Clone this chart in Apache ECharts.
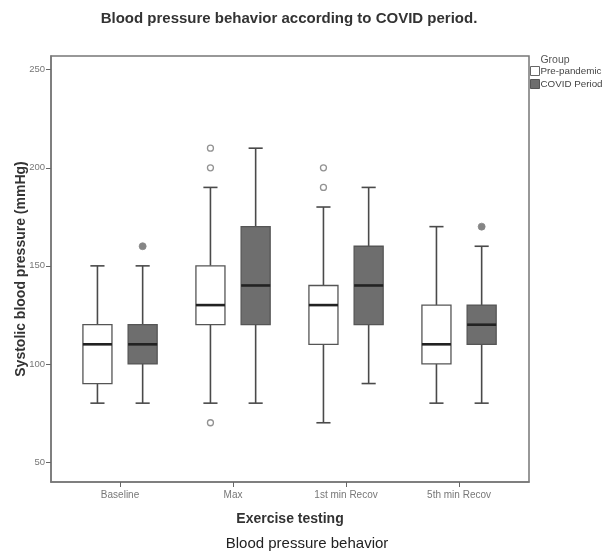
<!DOCTYPE html>
<html>
<head>
<meta charset="utf-8">
<script src="https://cdn.jsdelivr.net/npm/echarts@6/dist/echarts.min.js"></script>
<style>
  html, body { margin: 0; padding: 0; background: #fff; }
  #main { width: 603px; height: 551px; }
</style>
</head>
<body>
<div id="main"></div>
<script>
const categories = ['Baseline', 'Max', '1st min Recov', '5th min Recov'];
const groups = ['Pre-pandemic', 'COVID Period'];
// [min, Q1, median, Q3, max] per category
const preBoxes = [
  [80, 90, 110, 120, 150],
  [80, 120, 130, 150, 190],
  [70, 110, 130, 140, 180],
  [80, 100, 110, 130, 170]
];
const covidBoxes = [
  [80, 100, 110, 120, 150],
  [80, 120, 140, 170, 210],
  [90, 120, 140, 160, 190],
  [80, 110, 120, 130, 160]
];
// outliers: [categoryIndex, value]
const preOutliers = [[1, 210], [1, 200], [1, 70], [2, 200], [2, 190]];
const covidOutliers = [[0, 160], [3, 170]];
const yTicks = [50, 100, 150, 200, 250];

const SHIFT = 0.2;      // box offset from category centre, in category units
const BOX_W = 0.257;    // box width, in category units
const CAP_W = 0.125;

const font = 'Liberation Sans, Arial, sans-serif';

function boxSeries(name, boxes, shift, fill) {
  return {
    name: name,
    type: 'custom',
    itemStyle: { color: fill, borderColor: '#555' },
    encode: { x: 0, y: [1, 2, 3, 4, 5] },
    data: boxes.map((b, i) => [i, ...b]),
    renderItem: function (params, api) {
      const x = api.value(0) + shift;
      const pMin = api.coord([x, api.value(1)]);
      const pQ1 = api.coord([x, api.value(2)]);
      const pMed = api.coord([x, api.value(3)]);
      const pQ3 = api.coord([x, api.value(4)]);
      const pMax = api.coord([x, api.value(5)]);
      const unit = api.size([1, 0])[0];
      const half = unit * BOX_W / 2;
      const cap = unit * CAP_W / 2;
      const cx = pMed[0];
      const line = { stroke: '#4a4a4a', lineWidth: 1.6 };
      return {
        type: 'group',
        children: [
          { type: 'line', shape: { x1: cx, y1: pMax[1], x2: cx, y2: pQ3[1] }, style: line },
          { type: 'line', shape: { x1: cx, y1: pQ1[1], x2: cx, y2: pMin[1] }, style: line },
          { type: 'line', shape: { x1: cx - cap, y1: pMax[1], x2: cx + cap, y2: pMax[1] }, style: line },
          { type: 'line', shape: { x1: cx - cap, y1: pMin[1], x2: cx + cap, y2: pMin[1] }, style: line },
          {
            type: 'rect',
            shape: { x: cx - half, y: pQ3[1], width: half * 2, height: pQ1[1] - pQ3[1] },
            style: { fill: fill, stroke: '#555', lineWidth: 1.3 }
          },
          {
            type: 'line',
            shape: { x1: cx - half, y1: pMed[1], x2: cx + half, y2: pMed[1] },
            style: { stroke: '#222', lineWidth: 2.6 }
          }
        ]
      };
    }
  };
}

const chart = echarts.init(document.getElementById('main'));
chart.setOption({
  animation: false,
  backgroundColor: '#fff',
  title: [
    {
      text: 'Blood pressure behavior according to COVID period.',
      left: 284, top: 6, textAlign: 'center',
      textStyle: { fontFamily: font, fontSize: 15, fontWeight: 'bold', color: '#333' }
    },
    {
      text: 'Group',
      left: 550, top: 50, textAlign: 'center',
      textStyle: { fontFamily: font, fontSize: 10.5, fontWeight: 'normal', color: '#555' }
    },
    {
      text: 'Blood pressure behavior',
      left: 302, top: 531, textAlign: 'center',
      textStyle: { fontFamily: font, fontSize: 15, fontWeight: 'normal', color: '#222' }
    }
  ],
  legend: {
    orient: 'vertical',
    left: 530, top: 66,
    padding: 0,
    itemWidth: 9, itemHeight: 9, itemGap: 3,
    icon: 'rect',
    textStyle: { fontFamily: font, fontSize: 9.8, color: '#444', padding: [0, 0, 0, -4] },
    data: [
      { name: groups[0], itemStyle: { color: '#fff', borderColor: '#666', borderWidth: 1 } },
      { name: groups[1], itemStyle: { color: '#6e6e6e', borderColor: '#555', borderWidth: 1 } }
    ]
  },
  grid: {
    left: 51, right: 74, top: 56, bottom: 69,
    outerBoundsMode: 'none',
    show: true, borderColor: '#777', borderWidth: 1.5
  },
  xAxis: {
    type: 'value',
    min: -0.611, max: 3.619,
    name: 'Exercise testing',
    nameLocation: 'middle', nameGap: 30,
    nameMoveOverlap: false,
    nameTextStyle: { fontFamily: font, fontSize: 14, fontWeight: 'bold', color: '#333' },
    axisLine: { show: true, onZero: false, lineStyle: { color: '#777', width: 1.5 } },
    axisTick: { show: true, length: 5, customValues: [0, 1, 2, 3], lineStyle: { color: '#666' } },
    axisLabel: {
      customValues: [0, 1, 2, 3],
      formatter: v => categories[Math.round(v)],
      fontFamily: font, fontSize: 10, color: '#777', margin: 8
    },
    splitLine: { show: false }
  },
  yAxis: {
    type: 'value',
    min: 39.8, max: 257,
    name: 'Systolic blood pressure (mmHg)',
    nameLocation: 'middle', nameGap: 23,
    nameMoveOverlap: false,
    nameTextStyle: { fontFamily: font, fontSize: 14, fontWeight: 'bold', color: '#333' },
    axisLine: { show: true, onZero: false, lineStyle: { color: '#777', width: 1.5 } },
    axisTick: { show: true, length: 5, customValues: yTicks, lineStyle: { color: '#666' } },
    axisLabel: {
      customValues: yTicks,
      fontFamily: font, fontSize: 9.5, color: '#777', margin: 6
    },
    splitLine: { show: false }
  },
  series: [
    boxSeries(groups[0], preBoxes, -SHIFT, '#ffffff'),
    boxSeries(groups[1], covidBoxes, SHIFT, '#6e6e6e'),
    {
      name: groups[0],
      type: 'scatter',
      symbol: 'circle', symbolSize: 6,
      itemStyle: { color: '#fff', borderColor: '#777', borderWidth: 1.3 },
      data: preOutliers.map(o => [o[0] - SHIFT, o[1]])
    },
    {
      name: groups[1],
      type: 'scatter',
      symbol: 'circle', symbolSize: 7,
      itemStyle: { color: '#666', borderColor: '#888', borderWidth: 1 },
      data: covidOutliers.map(o => [o[0] + SHIFT, o[1]])
    }
  ]
});
</script>
</body>
</html>
